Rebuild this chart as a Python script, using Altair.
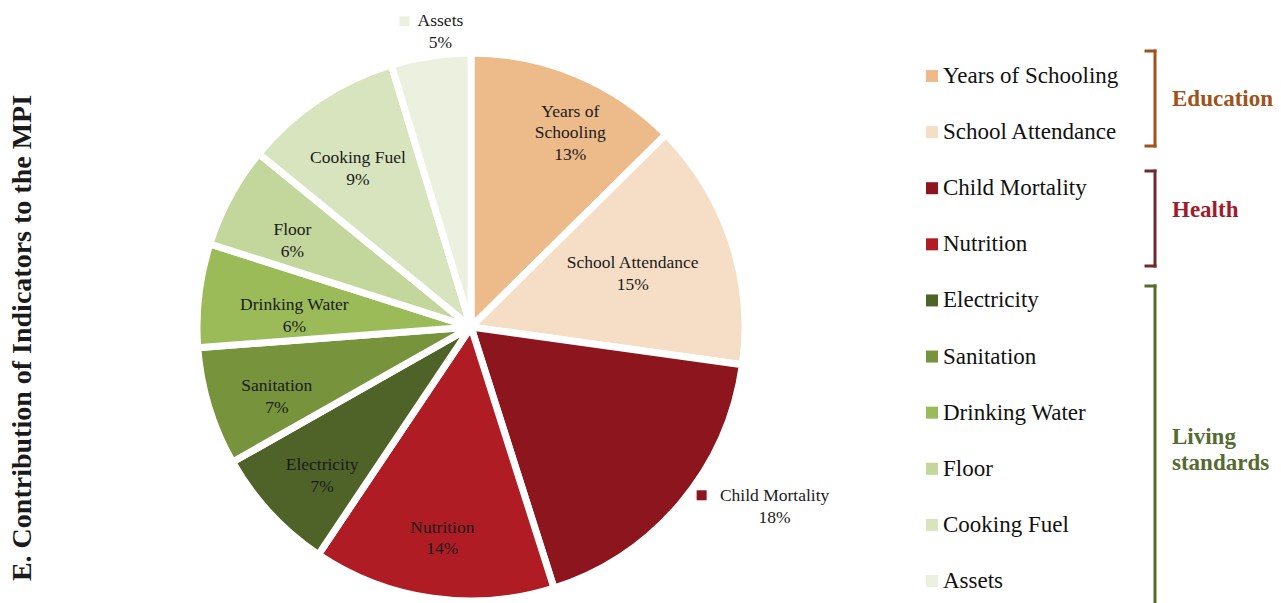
import altair as alt
import pandas as pd

# ---- data ----
names = ["Years of Schooling", "School Attendance", "Child Mortality", "Nutrition",
         "Electricity", "Sanitation", "Drinking Water", "Floor", "Cooking Fuel", "Assets"]
label_names = ["Years of\nSchooling", "School Attendance", "Child Mortality", "Nutrition",
               "Electricity", "Sanitation", "Drinking Water", "Floor", "Cooking Fuel", "Assets"]
shares = [12.6, 14.6, 17.9, 14.3, 7.4, 7.0, 6.1, 6.0, 9.4, 4.7]
colors = ["#EDBB8A", "#F6DEC6", "#8C151E", "#B01C24", "#4F6228",
          "#77933C", "#9BBB59", "#C3D69B", "#D7E4BD", "#EBF1DE"]

title_text = "E. Contribution of Indicators to the MPI"
group_labels = ["Education", "Health", "Living", "standards"]
group_colors = ["#A0521A", "#A01C2C", "#556B2F"]
bracket_colors = ["#A0521A", "#6E2A2E", "#556B2F"]

df = pd.DataFrame({
    "idx": list(range(len(names))),
    "name": names,
    "share": shares,
    "label": [f"{ln}\n{round(s)}%" for ln, s in zip(label_names, shares)],
})

SERIF = "Liberation Serif"
CX, CY = 471, 327
W, H = 1281, 603

base = (
    alt.Chart(df)
    .transform_window(cum="sum(share)", sort=[alt.SortField("idx", order="ascending")], frame=[None, 0])
    .transform_joinaggregate(total="sum(share)")
    .transform_calculate(mid="(datum.cum - datum.share/2) / datum.total * 2 * PI")
)


def at_radius(chart, r):
    return chart.transform_calculate(
        px=f"{CX} + {r} * sin(datum.mid)",
        py=f"{CY} - {r} * cos(datum.mid)",
    )


pos_enc = dict(
    x=alt.X("px:Q", scale=None, axis=None),
    y=alt.Y("py:Q", scale=None, axis=None),
)

color_scale = alt.Scale(domain=names, range=colors)
color_enc = alt.Color("name:N", sort=names, scale=color_scale, legend=None)

pie = alt.Chart(df).mark_arc(outerRadius=274, stroke="white", strokeWidth=7).encode(
    theta=alt.Theta("share:Q", stack=True),
    order=alt.Order("idx:Q"),
    color=color_enc,
    x=alt.value(CX),
    y=alt.value(CY),
)

txt_style = dict(font=SERIF, fontSize=17.5, lineBreak="\n", lineHeight=21.5, color="#1a1a1a",
                 align="center", baseline="middle")

# label layers: (names, radius, dx, dy)
label_specs = [
    (["Nutrition", "Electricity", "Sanitation", "Floor", "Cooking Fuel"], 203, 0, 0),
    (["Years of Schooling"], 203, 21, -28),
    (["School Attendance"], 203, -31, 0),
    (["Drinking Water"], 203, 25, 2),
    (["Child Mortality"], 320, 59, -37),
    (["Assets"], 296, 13, -13),
]
label_layers = []
for sel, r, dx, dy in label_specs:
    label_layers.append(
        at_radius(base.transform_filter(alt.FieldOneOfPredicate(field="name", oneOf=sel)), r)
        .mark_text(dx=dx, dy=dy, **txt_style)
        .encode(text="label:N", **pos_enc)
    )

# small keys next to the outside labels
key_specs = [(["Child Mortality"], 320, -14, -38), (["Assets"], 296, -23, -13)]
for sel, r, xo, yo in key_specs:
    label_layers.append(
        at_radius(base.transform_filter(alt.FieldOneOfPredicate(field="name", oneOf=sel)), r)
        .mark_square(size=100, opacity=1, xOffset=xo, yOffset=yo)
        .encode(color=color_enc, **pos_enc)
    )

# legend (built from the same categories, positioned with a point scale)
leg_y = alt.Y("name:N", sort=names,
              scale=alt.Scale(type="point", domain=names, range=[76, 581], padding=0),
              axis=None)
leg_sq = alt.Chart(df).mark_square(size=144, opacity=1).encode(
    x=alt.value(932), y=leg_y, color=color_enc)
leg_tx = alt.Chart(df).mark_text(font=SERIF, fontSize=23, color="#111111", align="left",
                                 baseline="middle").encode(
    x=alt.value(943), y=leg_y, text="name:N")

one = alt.Data(values=[{"k": 1}])

title = alt.Chart(one).mark_text(
    text=title_text, font=SERIF, fontSize=28, fontWeight="bold", angle=270,
    align="center", baseline="middle", color="#1a1a1a",
).encode(x=alt.value(23), y=alt.value(338))


def rule(x1, y1, x2, y2, color):
    return alt.Chart(one).mark_rule(color=color, strokeWidth=3, strokeCap="square").encode(
        x=alt.value(x1), y=alt.value(y1), x2=alt.value(x2), y2=alt.value(y2)
    )


brackets = [
    rule(1155, 51, 1155, 146, bracket_colors[0]),
    rule(1146, 51, 1155, 51, bracket_colors[0]),
    rule(1146, 146, 1155, 146, bracket_colors[0]),
    rule(1155, 171, 1155, 266, bracket_colors[1]),
    rule(1146, 171, 1155, 171, bracket_colors[1]),
    rule(1146, 266, 1155, 266, bracket_colors[1]),
    rule(1155, 286, 1155, 610, bracket_colors[2]),
    rule(1146, 286, 1155, 286, bracket_colors[2]),
]


def glabel(txt, y, color):
    return alt.Chart(one).mark_text(
        text=txt, font=SERIF, fontSize=23, fontWeight="bold", color=color,
        align="left", baseline="middle",
    ).encode(x=alt.value(1172), y=alt.value(y))


glabels = [
    glabel(group_labels[0], 99, group_colors[0]),
    glabel(group_labels[1], 210, group_colors[1]),
    glabel(group_labels[2], 437, group_colors[2]),
    glabel(group_labels[3], 463, group_colors[2]),
]

chart = alt.layer(
    pie, *label_layers, leg_sq, leg_tx, title, *brackets, *glabels
).properties(
    width=W, height=H, autosize=alt.AutoSizeParams(type="none"), padding=0,
).configure_view(stroke=None).resolve_scale(x="independent", y="independent", color="shared")

chart.save("out.html", embed_options={"renderer": "svg", "actions": False})
